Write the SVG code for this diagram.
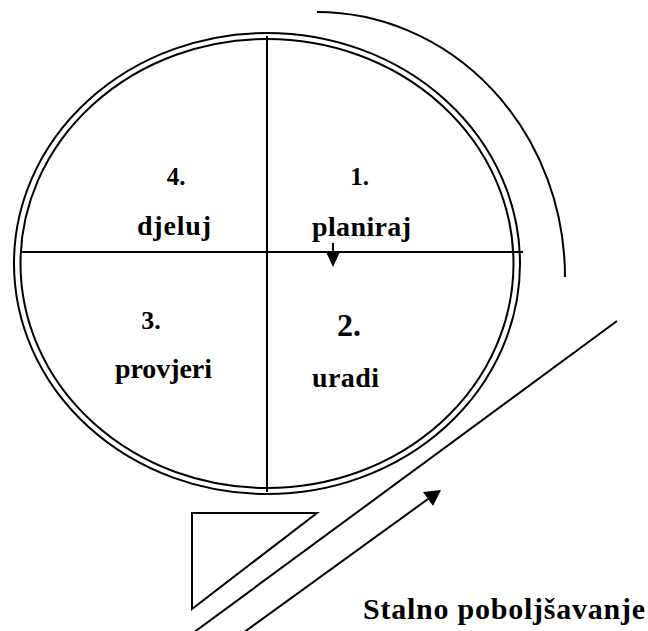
<svg xmlns="http://www.w3.org/2000/svg" width="648" height="631" viewBox="0 0 648 631">
<defs>
<style>
.ln{fill:none;stroke:#000;stroke-width:2}
.t{font-weight:700;fill:#000}
</style>
</defs>
<rect width="648" height="631" fill="#fff"/>
<g id="cycle">
<ellipse class="ln" cx="267" cy="263.5" rx="253" ry="230.5"/>
<ellipse class="ln" cx="267" cy="263.5" rx="246.5" ry="224.5"/>
<line class="ln" x1="267" y1="36" x2="267" y2="492"/>
<line class="ln" x1="21" y1="252" x2="523" y2="252"/>
</g>
<g font-family="'Times New Roman', 'Liberation Serif', Tinos, serif">
<g id="q4"><text class="t" x="176" y="185" font-size="25" text-anchor="middle">4.</text><text class="t" x="137" y="235" font-size="28" textLength="74" lengthAdjust="spacing">djeluj</text></g>
<g id="q1"><text class="t" x="359.5" y="185" font-size="25" text-anchor="middle">1.</text><text class="t" x="312" y="236" font-size="28" textLength="99" lengthAdjust="spacing">planiraj</text></g>
<g id="q3"><text class="t" x="151" y="329" font-size="26" text-anchor="middle">3.</text><text class="t" x="115" y="378" font-size="28" textLength="97" lengthAdjust="spacing">provjeri</text></g>
<g id="q2"><text class="t" x="349" y="336" font-size="32" text-anchor="middle">2.</text><text class="t" x="312" y="387" font-size="28" textLength="67" lengthAdjust="spacing">uradi</text></g>
<g id="label"><text class="t" x="363" y="619" font-size="30" textLength="282" lengthAdjust="spacing">Stalno poboljšavanje</text></g>
</g>
<g id="triangle"><polygon class="ln" points="192,513 317,513 192,609"/></g>
<g id="connectors">
<path class="ln" d="M317,12 A248,265 0 0 1 565,277"/>
<line class="ln" x1="333" y1="243" x2="333" y2="256"/>
<polygon points="326.5,253 339.5,253 333,267" fill="#000"/>
<line class="ln" x1="617" y1="321" x2="193" y2="633"/>
<line class="ln" x1="243" y1="633" x2="428" y2="499"/>
<polygon points="441,490 433,506 423,492" fill="#000"/>
</g>
</svg>
